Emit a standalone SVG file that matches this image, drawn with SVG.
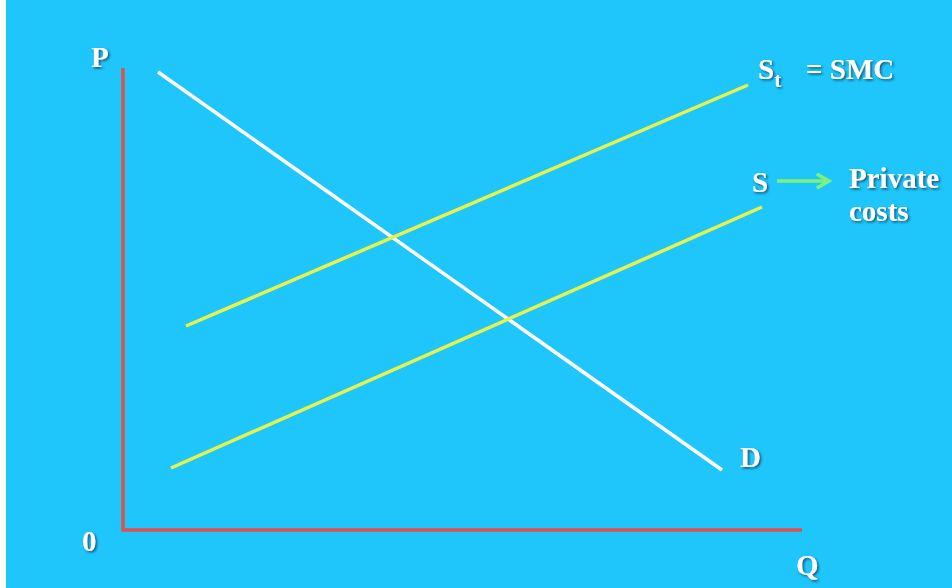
<svg xmlns="http://www.w3.org/2000/svg" width="952" height="588" viewBox="0 0 952 588">
<defs>
<filter id="sh" x="-20%" y="-20%" width="140%" height="140%">
<feDropShadow dx="1.5" dy="1.5" stdDeviation="0.8" flood-color="#1a3550" flood-opacity="0.8"/>
</filter>
<marker id="ga" viewBox="0 0 10 10" refX="8" refY="5" markerWidth="5" markerHeight="5" orient="auto" markerUnits="strokeWidth">
<path d="M1,1 L8,5 L1,9" fill="none" stroke="#7CF27A" stroke-width="2"/>
</marker>
</defs>
<style>
.lbl{font-family:"Liberation Serif","Times New Roman",serif;font-weight:bold;fill:#ffffff;filter:url(#sh);font-size:29px}
.axis{stroke:#E2504A;stroke-width:3.5;fill:none}
.sup{stroke:#E8F24A;stroke-width:3.5;fill:none}
.dem{stroke:#ffffff;stroke-width:3.5;fill:none}
</style>
<rect x="0" y="0" width="952" height="588" fill="#ffffff"/>
<rect x="6" y="0" width="946" height="588" fill="#1EC6FC"/>
<g id="connectors">
<polyline class="axis" points="123,68 123,530 802,530"/>
<line class="dem" x1="158" y1="72" x2="722" y2="470"/>
<line class="sup" x1="186" y1="326" x2="748" y2="85"/>
<line class="sup" x1="171" y1="468" x2="762" y2="207"/>
<line x1="777" y1="181" x2="829" y2="181" stroke="#7CF27A" stroke-width="3.5" marker-end="url(#ga)"/>
</g>
<g id="label-P"><text class="lbl" x="91" y="67">P</text></g>
<g id="label-0"><text class="lbl" x="82" y="551">0</text></g>
<g id="label-Q"><text class="lbl" x="796" y="575">Q</text></g>
<g id="label-D"><text class="lbl" x="740" y="467">D</text></g>
<g id="label-St"><text class="lbl" x="758" y="79">S<tspan font-size="21" dy="8">t</tspan></text><text class="lbl" x="806" y="79">= SMC</text></g>
<g id="label-S"><text class="lbl" x="752" y="192">S</text></g>
<g id="label-private"><text class="lbl" x="849" y="188" font-size="27">Private</text><text class="lbl" x="849" y="221" font-size="27">costs</text></g>
</svg>
